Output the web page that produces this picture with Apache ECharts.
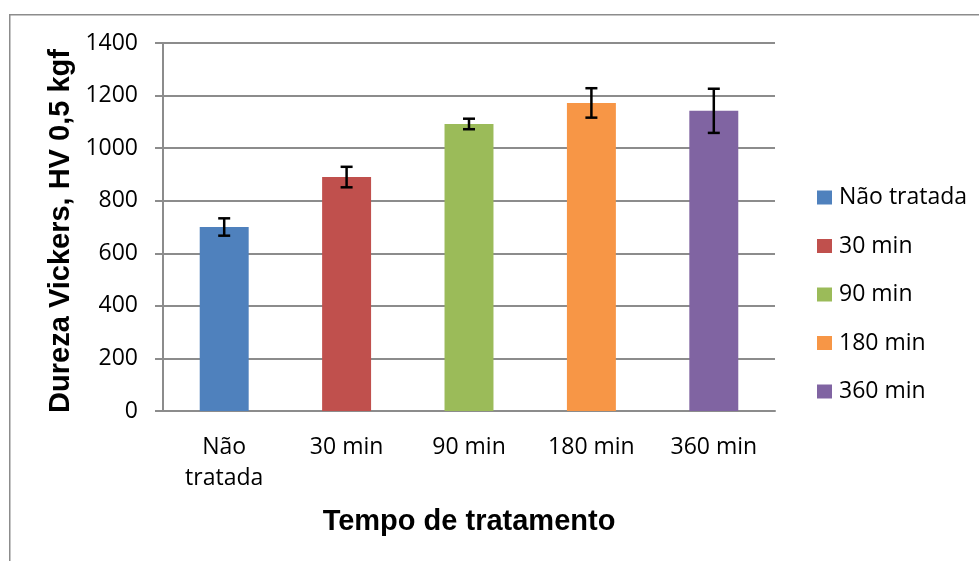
<!DOCTYPE html>
<html>
<head>
<meta charset="utf-8">
<script src="https://cdn.jsdelivr.net/npm/echarts@6/dist/echarts.min.js"></script>
<style>html,body{margin:0;padding:0;background:#fff;}#c{width:979px;height:561px;}</style>
</head>
<body>
<div id="c"></div>
<script>
const categories = ['Não\ntratada', '30 min', '90 min', '180 min', '360 min'];
const seriesNames = ['Não tratada', '30 min', '90 min', '180 min', '360 min'];
const values = [700, 890, 1092, 1172, 1142];
const errors = [33, 39, 20, 56, 84];
const colors = ['#4F81BD', '#C0504D', '#9BBB59', '#F79646', '#8064A2'];
const yTicks = [0, 200, 400, 600, 800, 1000, 1200, 1400];
const xTitle = 'Tempo de tratamento';
const yTitle = 'Dureza Vickers, HV 0,5 kgf';

const chart = echarts.init(document.getElementById('c'), null, {renderer: 'canvas'});
const barSeries = seriesNames.map((name, i) => ({
  name: name,
  type: 'bar',
  barWidth: '40%',
  barGap: '-100%',
  itemStyle: {color: colors[i]},
  data: values.map((v, j) => j === i ? v : null)
}));
const errData = values.map((v, i) => [i, v - errors[i], v + errors[i]]);
const option = {
  animation: false,
  textStyle: {fontFamily: 'Open Sans'},
  graphic: [{
    type: 'rect', left: 9, top: 14, z: -10,
    shape: {width: 1000, height: 600},
    style: {fill: '#fff', stroke: '#8c8c8c', lineWidth: 1.5}
  }, {
    type: 'text', x: 61, y: 231, rotation: Math.PI / 2,
    style: {text: yTitle, font: 'bold 29px "Liberation Sans"', fill: '#000',
      textAlign: 'center', textVerticalAlign: 'middle'}
  }, {
    type: 'text', x: 469, y: 522,
    style: {text: xTitle, font: 'bold 29px "Liberation Sans"', fill: '#000',
      textAlign: 'center', textVerticalAlign: 'middle'}
  }],
  grid: {left: 163, right: 204, top: 43, bottom: 150},
  legend: {
    orient: 'vertical', left: 817, top: 186, itemGap: 25.5, padding: 0,
    itemWidth: 15, itemHeight: 14, icon: 'rect',
    textStyle: {fontSize: 23, color: '#000', fontFamily: 'Open Sans', padding: [0, 0, 0, 2]},
    data: seriesNames
  },
  xAxis: {
    type: 'category', data: categories,
    axisLine: {lineStyle: {color: '#8c8c8c', width: 2}},
    axisTick: {length: 8, lineStyle: {color: '#8c8c8c', width: 2}},
    axisLabel: {fontSize: 23, color: '#000', margin: 21, lineHeight: 31}
  },
  yAxis: {
    type: 'value', min: 0, max: 1400, interval: 200,
    axisLine: {show: true, lineStyle: {color: '#8c8c8c', width: 2}},
    axisTick: {show: true, length: 8, lineStyle: {color: '#8c8c8c', width: 2}},
    splitLine: {lineStyle: {color: '#8c8c8c', width: 2}},
    axisLabel: {fontSize: 23, color: '#000', margin: 25,
      formatter: v => yTicks.indexOf(v) >= 0 ? String(v) : ''}
  },
  series: barSeries.concat([{
    type: 'custom', name: 'err', z: 10,
    data: errData,
    encode: {x: 0, y: [1, 2]},
    renderItem: function (params, api) {
      const x = api.value(0);
      const lo = api.coord([x, api.value(1)]);
      const hi = api.coord([x, api.value(2)]);
      const cw = 6;
      const st = {stroke: '#000', lineWidth: 2.5};
      return {type: 'group', children: [
        {type: 'line', shape: {x1: lo[0], y1: lo[1], x2: hi[0], y2: hi[1]}, style: st},
        {type: 'line', shape: {x1: lo[0] - cw, y1: lo[1], x2: lo[0] + cw, y2: lo[1]}, style: st},
        {type: 'line', shape: {x1: hi[0] - cw, y1: hi[1], x2: hi[0] + cw, y2: hi[1]}, style: st}
      ]};
    }
  }])
};
chart.setOption(option);
</script>
</body>
</html>
